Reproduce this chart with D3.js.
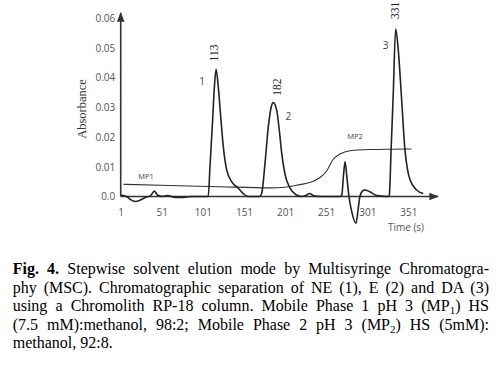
<!DOCTYPE html>
<html>
<head>
<meta charset="utf-8">
<script src="https://cdn.jsdelivr.net/npm/d3@7"></script>
<style>
  html, body { margin: 0; padding: 0; background: #fff; }
  svg { display: block; }
</style>
</head>
<body>
<svg id="chart" width="502" height="366"></svg>
<script>
// signal trace (time in s, absorbance)
const sigTime = [1, 8, 13, 19, 25, 31, 37, 42, 46, 52, 58, 65, 72, 80, 88, 100,
    107.5, 109.6, 112.7, 115, 117, 119.7, 122.7, 125.8, 130, 136, 144, 150, 156,
    170, 172.5, 176.5, 180.6, 183.8, 186.6, 190.8, 193.9, 196.9, 200.9, 207, 215, 221, 226, 231, 236, 245,
    268, 270, 272, 273.9, 276, 278.7, 282, 287.2, 290, 292, 295, 298, 304, 310, 316,
    327, 327.8, 330, 332.5, 335.5, 338.7, 342.8, 346.8, 350, 353, 361, 369];
const sigAbs = [0.0005, 0.0, -0.0010, -0.0017, -0.0012, -0.0003, 0.0002, 0.0018, 0.0004, 0.0, 0.0003, -0.0002, -0.0003, -0.0002, 0.0, 0.0,
    0.0, 0.010, 0.025, 0.037, 0.0428, 0.037, 0.0268, 0.0168, 0.0089, 0.005, 0.0028, 0.001, 0.0,
    0.0, 0.001, 0.011, 0.0235, 0.0297, 0.0316, 0.029, 0.0224, 0.0145, 0.0075, 0.0028, 0.0005, 0.0, 0.0003, 0.001, 0.0002, 0.0,
    0.0, 0.0005, 0.007, 0.0117, 0.007, 0.0, -0.005, -0.009, -0.004, 0.0, 0.0018, 0.0022, 0.0016, 0.0006, 0.0002,
    0.0, 0.0005, 0.016, 0.034, 0.0564, 0.0493, 0.0325, 0.0157, 0.009, 0.0056, 0.0022, 0.001];

// mobile phase profile MP1 -> MP2
const mpTime = [4, 60, 120, 183, 200, 219, 231, 243, 251.6, 259, 267.8, 280, 304, 355];
const mpAbs  = [0.0041, 0.0037, 0.0033, 0.0029, 0.0031, 0.0040, 0.0047, 0.0063, 0.0086, 0.0123, 0.0143, 0.0154, 0.0158, 0.016];

const xTicks = [1, 51, 101, 151, 201, 251, 301, 351];
const yTicks = [0, 0.01, 0.02, 0.03, 0.04, 0.05, 0.06];
const yTickLabels = ["0.0", "0.01", "0.02", "0.03", "0.04", "0.05", "0.06"];

// peak apexes and their labels
const peakTime = [117, 186.6, 335.5];
const peakAbs = [0.0428, 0.0316, 0.0564];
const peakRt = ["113", "182", "331"];
const peakNum = ["1", "2", "3"];

const caption = [
    [{ t: "Fig. 4.", b: true }, { t: " Stepwise solvent elution mode by Multisyringe Chromatogra-" }],
    [{ t: "phy (MSC). Chromatographic separation of NE (1), E (2) and DA (3)" }],
    [{ t: "using a Chromolith RP-18 column. Mobile Phase 1 pH 3 (MP" }, { t: "1", sub: true }, { t: ") HS" }],
    [{ t: "(7.5 mM):methanol, 98:2; Mobile Phase 2 pH 3 (MP" }, { t: "2", sub: true }, { t: ") HS (5mM):" }],
    [{ t: "methanol, 92:8." }]
];

const SERIF = '"Liberation Serif"';
const SANS = '"Open Sans"';

const svg = d3.select("#chart");
const x = d3.scaleLinear().domain([1, 351]).range([120.7, 408.4]);
const y = d3.scaleLinear().domain([0, 0.06]).range([196.5, 18.3]);

// axes (labels only, no tick marks)
const gx = svg.append("g").attr("transform", `translate(0,${y(0)})`)
    .call(d3.axisBottom(x).tickValues(xTicks).tickSize(0).tickPadding(12.7).tickFormat(d3.format("d")));
const gy = svg.append("g").attr("transform", `translate(${x(1)},0)`)
    .call(d3.axisLeft(y).tickValues(yTicks).tickSize(0).tickPadding(5.5).tickFormat((d, i) => yTickLabels[i]));
[gx, gy].forEach(g => {
    g.select(".domain").remove();
    g.selectAll("text").style("font-family", SANS).attr("font-size", 10).attr("fill", "#555");
});

// axis lines with arrow heads
svg.append("defs").append("marker")
    .attr("id", "arr").attr("viewBox", "0 0 10 10").attr("refX", 9).attr("refY", 5)
    .attr("markerWidth", 6).attr("markerHeight", 6).attr("orient", "auto")
    .append("path").attr("d", "M0,1L10,5L0,9Z").attr("fill", "#333");
svg.append("line").attr("x1", x(1)).attr("y1", y(0)).attr("x2", x(1)).attr("y2", 13)
    .attr("stroke", "#333").attr("stroke-width", 1.6).attr("marker-end", "url(#arr)");
svg.append("line").attr("x1", x(1)).attr("y1", y(0)).attr("x2", 438).attr("y2", y(0))
    .attr("stroke", "#333").attr("stroke-width", 1.6).attr("marker-end", "url(#arr)");

// mobile phase line
const mpLine = d3.line().x((d, i) => x(mpTime[i])).y(d => y(d)).curve(d3.curveMonotoneX);
svg.append("path").attr("d", mpLine(mpAbs))
    .attr("fill", "none").attr("stroke", "#333").attr("stroke-width", 1.1);

// chromatogram
const sigLine = d3.line().x((d, i) => x(sigTime[i])).y(d => y(d)).curve(d3.curveMonotoneX);
svg.append("path").attr("d", sigLine(sigAbs))
    .attr("fill", "none").attr("stroke", "#222").attr("stroke-width", 1.6);

// retention time labels (vertical)
const rtOff = [[-2, -8], [4, -7], [-1, -10]];
svg.selectAll("text.rt").data(peakRt).join("text").attr("class", "rt")
    .attr("transform", (d, i) => `translate(${x(peakTime[i]) + rtOff[i][0]},${y(peakAbs[i]) + rtOff[i][1]}) rotate(-90)`)
    .attr("dy", "0.35em").style("font-family", SERIF).attr("font-size", 11.5).attr("fill", "#222")
    .text(d => d);

// peak numbers
const numOff = [[-14, 16], [15, 17], [-10, 20]];
svg.selectAll("text.num").data(peakNum).join("text").attr("class", "num")
    .attr("x", (d, i) => x(peakTime[i]) + numOff[i][0])
    .attr("y", (d, i) => y(peakAbs[i]) + numOff[i][1])
    .attr("text-anchor", "middle").style("font-family", SANS).attr("font-size", 10).attr("fill", "#444")
    .text(d => d);

// annotations
const note = (tx, ty, size, fill, txt) => svg.append("text").attr("x", tx).attr("y", ty)
    .attr("text-anchor", "middle").style("font-family", SANS).attr("font-size", size).attr("fill", fill).text(txt);
note(146, 179, 7.5, "#444", "MP1");
note(355, 139, 7.5, "#444", "MP2");
note(406, 230.5, 10, "#555", "Time (s)");
svg.append("text").attr("transform", "translate(86,109) rotate(-90)").attr("text-anchor", "middle")
    .style("font-family", SERIF).attr("font-size", 12.5).attr("fill", "#333").text("Absorbance");

// justified caption
const capLeft = 12.7, capRight = 489, capTop = 274.3, capStep = 18.5;
caption.forEach((line, li) => {
    const t = svg.append("text").attr("x", capLeft).attr("y", capTop + li * capStep)
        .style("font-family", SERIF).attr("font-size", 16).attr("fill", "#000")
        .style("white-space", "pre");
    line.forEach(seg => {
        const ts = t.append("tspan").text(seg.t);
        if (seg.b) ts.attr("font-weight", "bold");
        if (seg.sub) ts.attr("font-size", 11).attr("dy", 3);
        else if (seg.t.startsWith(")")) ts.attr("dy", -3);
    });
    if (li < caption.length - 1) {
        const w = t.node().getComputedTextLength();
        const spaces = line.map(s => s.t).join("").split(" ").length - 1;
        t.attr("word-spacing", (capRight - capLeft - w) / spaces);
    }
});
</script>
</body>
</html>
